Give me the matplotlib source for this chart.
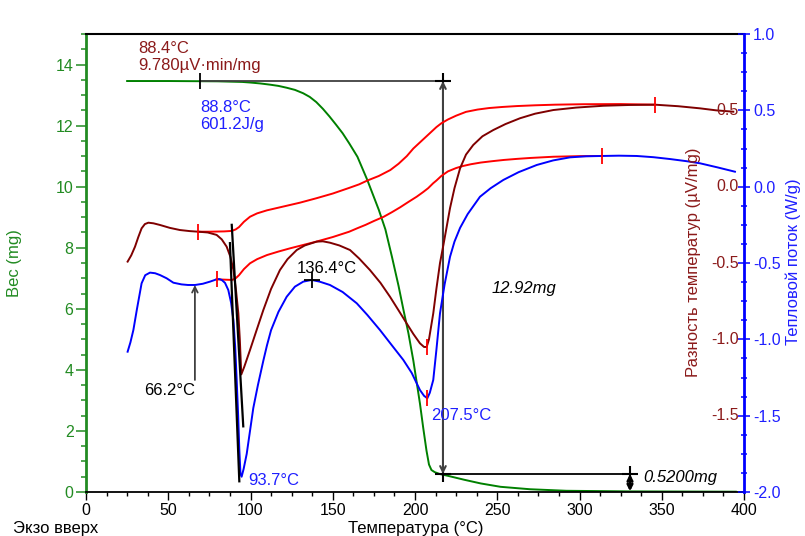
import matplotlib
matplotlib.use('Agg')
import matplotlib.pyplot as plt
import matplotlib.transforms as mtransforms
from matplotlib.ticker import MultipleLocator, FormatStrFormatter

plt.rcParams['font.family'] = ['Liberation Sans', 'DejaVu Sans']
plt.rcParams['axes.unicode_minus'] = False

# TG curve (mass, mg)
temp_tg = [25, 50, 80, 95, 100, 106, 112, 117, 122, 127, 132, 136, 140, 144, 148, 152, 156,
           160, 165, 171, 178, 182, 186, 190, 193, 196, 199, 201, 203, 205, 207, 208.5,
           210, 212, 215, 220, 230, 240, 252, 270, 292, 330, 395]
mass_tg = [13.46, 13.46, 13.45, 13.43, 13.41, 13.38, 13.34, 13.30, 13.24, 13.17, 13.06,
           12.94, 12.77, 12.55, 12.30, 12.03, 11.75, 11.42, 10.98, 10.22, 9.24, 8.6, 7.7,
           6.75, 5.96, 5.2, 4.3, 3.6, 2.9, 2.1, 1.35, 0.9, 0.72, 0.65, 0.59, 0.53, 0.40,
           0.28, 0.17, 0.09, 0.04, 0.02, 0.01]

# DTA curve (uV/mg)
temp_dta = [25.3, 27.5, 29.8, 31.8, 33.8, 35.8, 37.9, 41, 45, 51, 57.1, 63, 68.3, 74,
            79.4, 82.5, 85.5, 87.8, 89.6, 91.2, 92.6, 93.5, 94.4, 96.2, 99.7, 103.7, 107.8,
            112.5, 117.9, 122.5, 128.1, 133, 140.2, 144, 148.3, 154, 160.5, 166, 172.6,
            179, 184.8, 190, 194.9, 199, 203, 205.5, 207.1, 208.5, 211.1, 213, 215.2,
            217.3, 219.3, 221.3, 224, 227.4, 231, 235.4, 241, 247.6, 255, 263.8, 273,
            284.1, 298, 314.5, 330, 345.9, 360, 373.3, 383, 393.5]
dta = [-0.491, -0.45, -0.393, -0.33, -0.273, -0.245, -0.236, -0.240, -0.251, -0.27,
       -0.284, -0.291, -0.295, -0.300, -0.316, -0.345, -0.393, -0.46, -0.545, -0.68,
       -0.829, -1.0, -1.23, -1.18, -1.07, -0.94, -0.808, -0.67, -0.546, -0.475, -0.415,
       -0.385, -0.360, -0.358, -0.367, -0.385, -0.415, -0.47, -0.546, -0.63, -0.721,
       -0.81, -0.895, -0.965, -1.026, -1.05, -1.05, -1.0, -0.83, -0.67, -0.50, -0.38,
       -0.26, -0.14, -0.01, 0.12, 0.21, 0.273, 0.33, 0.371, 0.41, 0.448, 0.478, 0.502,
       0.518, 0.530, 0.535, 0.537, 0.527, 0.513, 0.50, 0.491]

# DSC curve (W/g)
temp_dsc = [25.3, 27, 28.8, 31, 33.8, 36, 38.9, 42, 45, 49, 53.1, 58, 62, 66.3, 71, 75.4,
            79.4, 81, 82.5, 84.5, 86.5, 88.2, 89.6, 90.7, 91.6, 92.5, 93.2, 93.9, 94.6,
            95.8, 97.7, 99.7, 101.7, 104.5, 107.8, 110, 112.5, 117, 122, 127, 132.1,
            137.2, 142, 148.3, 156, 164.6, 171, 178.7, 186, 192.9, 198, 203, 205.5, 207.5,
            209, 211.1, 213, 215.2, 218, 221.3, 224, 227.4, 232, 239.5, 246, 253.7, 263,
            274, 284, 294.2, 304, 313.5, 324, 334.8, 345, 355, 365, 373.3, 384, 394.5]
dsc = [-1.081, -1.02, -0.939, -0.80, -0.633, -0.58, -0.563, -0.567, -0.579, -0.60,
       -0.629, -0.640, -0.644, -0.644, -0.636, -0.622, -0.607, -0.605, -0.611, -0.63,
       -0.677, -0.76, -0.873, -1.05, -1.266, -1.5, -1.72, -1.88, -1.90, -1.85, -1.75,
       -1.6, -1.45, -1.30, -1.14, -1.04, -0.94, -0.82, -0.721, -0.655, -0.622, -0.611,
       -0.622, -0.644, -0.69, -0.764, -0.84, -0.939, -1.04, -1.135, -1.22, -1.332,
       -1.37, -1.386, -1.35, -1.266, -1.07, -0.829, -0.64, -0.459, -0.36, -0.27, -0.18,
       -0.066, -0.01, 0.044, 0.095, 0.142, 0.172, 0.192, 0.199, 0.201, 0.203, 0.201,
       0.193, 0.181, 0.167, 0.153, 0.126, 0.098]

# integration baselines
temp_base_dta = [68.3, 75, 84, 88.6, 91, 93, 96, 99.7, 104, 110, 120, 130, 140, 150, 160,
                 166, 171, 178, 185, 190, 195, 199, 203, 207, 210, 213, 216, 220, 225,
                 231, 238, 245, 253, 262, 273, 285, 302, 325, 345.9]
base_dta = [-0.295, -0.295, -0.293, -0.29, -0.28, -0.265, -0.23, -0.197, -0.175, -0.155,
            -0.13, -0.105, -0.076, -0.045, -0.008, 0.015, 0.04, 0.07, 0.109, 0.15, 0.20,
            0.25, 0.29, 0.33, 0.36, 0.39, 0.415, 0.44, 0.465, 0.49, 0.505, 0.515, 0.522,
            0.528, 0.533, 0.537, 0.540, 0.541, 0.537]
temp_base_dsc = [79.4, 84, 88.8, 91, 93, 96, 99.7, 104, 110, 117, 124, 132, 140, 150, 160,
                 165, 170, 175, 181, 186, 191, 196, 201, 205, 208, 211, 213, 216, 220,
                 225, 229, 234, 240, 247, 254, 262, 270, 284, 300, 313.5]
base_dsc = [-0.607, -0.609, -0.611, -0.6, -0.58, -0.54, -0.502, -0.475, -0.448, -0.425,
            -0.404, -0.382, -0.36, -0.33, -0.295, -0.272, -0.25, -0.225, -0.197, -0.167,
            -0.135, -0.10, -0.066, -0.035, -0.01, 0.022, 0.04, 0.07, 0.10, 0.122, 0.135,
            0.147, 0.158, 0.167, 0.175, 0.182, 0.188, 0.196, 0.200, 0.201]

# marks on the curves
mark_t = [68.3, 79.4, 345.9, 313.5, 207.1, 207.5]
mark_v = [-0.295, -0.607, 0.537, 0.201, -1.05, -1.386]

green = '#008000'
green_ax = '#228B22'
blue = '#0000FF'
blue_txt = '#1F1FFF'
brown = '#7F0000'
brown_txt = '#8B1A1A'
red = '#FF0000'
gray = '#404040'

fig = plt.figure(figsize=(8.05, 5.36), dpi=100)
ax = fig.add_axes([86 / 805, 1 - 492 / 536, 658 / 805, 458 / 536])
ax2 = ax.twinx()

ax.plot(temp_tg, mass_tg, color=green, lw=1.4)
ax.set_xlim(0, 400)
ax.set_ylim(0, 15)

ax2.plot(temp_base_dta, base_dta, color=red, lw=1.4)
ax2.plot(temp_base_dsc, base_dsc, color=red, lw=1.4)
ax2.plot(temp_dta, dta, color=brown, lw=1.4)
ax2.plot(temp_dsc, dsc, color=blue, lw=1.4)
ax2.plot(mark_t, mark_v, ls='none', marker='|', ms=11, mew=1.3, color=red)
ax2.set_ylim(-2, 1)

# onset tangents
ax2.plot([88.6, 95.6], [-0.25, -1.57], color='k', lw=1.6)
ax2.plot([87.5, 93.2], [-0.37, -1.93], color='k', lw=1.6)

# 66.2 arrow and peak cross
ax2.annotate('', xy=(66.2, -0.644), xytext=(66.2, -1.266),
             arrowprops=dict(arrowstyle='->', color=gray, lw=1.3, shrinkA=0, shrinkB=0))
ax2.plot([137.2], [-0.611], marker='+', ms=11, mew=1.3, color='k')

# mass loss steps
ax.plot([69.3, 220.1], [13.46, 13.46], color=gray, lw=1.3)
ax.plot([69.3], [13.46], marker='|', ms=12, mew=1.3, color='k')
ax.annotate('', xy=(217, 13.46), xytext=(217, 0.59),
            arrowprops=dict(arrowstyle='<->', color=gray, lw=1.5, shrinkA=0, shrinkB=0))
ax.plot([217, 334.3], [0.59, 0.59], color='k', lw=1.3)
ax.annotate('', xy=(330.7, 0.59), xytext=(330.7, 0.02),
            arrowprops=dict(arrowstyle='<->', color='k', lw=2, shrinkA=0, shrinkB=0,
                            mutation_scale=8))
ax.plot([217, 217, 330.7], [13.46, 0.59, 0.59], ls='none', marker='+', ms=12,
        mew=1.5, color='k')

# annotation texts
ax.text(31.6, 14.25, '88.4°C\n9.780µV·min/mg', color=brown_txt, fontsize=12,
        ha='left', va='center')
ax.text(69.3, 12.32, '88.8°C\n601.2J/g', color=blue_txt, fontsize=12,
        ha='left', va='center')
ax.text(146.3, 7.33, '136.4°C', color='k', fontsize=12, ha='center', va='center')
ax.text(66.3, 3.34, '66.2°C', color='k', fontsize=12, ha='right', va='center')
ax.text(98.7, 0.37, '93.7°C', color=blue_txt, fontsize=12, ha='left', va='center')
ax.text(210.1, 2.52, '207.5°C', color=blue_txt, fontsize=12, ha='left', va='center')
ax.text(246.6, 6.65, '12.92mg', color='k', fontsize=12, style='italic',
        ha='left', va='center')
ax.text(338.8, 0.48, '0.5200mg', color='k', fontsize=12, style='italic',
        ha='left', va='center')

# axes styling
ax.xaxis.set_major_locator(MultipleLocator(50))
ax.xaxis.set_minor_locator(MultipleLocator(12.5))
ax.yaxis.set_major_locator(MultipleLocator(2))
ax.yaxis.set_minor_locator(MultipleLocator(0.5))
ax.tick_params(axis='x', which='major', length=6, width=1, labelsize=11.5, pad=2)
ax.tick_params(axis='x', which='minor', length=3, width=1)
ax.tick_params(axis='y', which='major', length=7, width=1.1, color=green_ax,
               labelcolor=green_ax, labelsize=11.5, pad=2)
ax.tick_params(axis='y', which='minor', length=3.5, width=1.1, color=green_ax)
ax.spines['left'].set_color(green_ax)
ax.spines['left'].set_linewidth(2)
ax.spines['right'].set_visible(False)
ax.spines['top'].set_linewidth(1.5)
ax.spines['bottom'].set_linewidth(1.3)

ax2.yaxis.set_major_locator(MultipleLocator(0.5))
ax2.yaxis.set_minor_locator(MultipleLocator(0.125))
ax2.yaxis.set_major_formatter(FormatStrFormatter('%.1f'))
ax2.tick_params(axis='y', which='major', direction='inout', length=9, width=1.1,
                color=blue, labelcolor=blue_txt, labelsize=11.5, pad=2)
ax2.tick_params(axis='y', which='minor', direction='inout', length=5, width=1.1,
                color=blue)
ax2.spines['right'].set_color(blue)
ax2.spines['right'].set_linewidth(2)
for s in ['left', 'top', 'bottom']:
    ax2.spines[s].set_visible(False)

# brown tick labels inside the right spine
trans = mtransforms.blended_transform_factory(ax2.transAxes, ax2.transData)
for v in [0.5, 0.0, -0.5, -1.0, -1.5]:
    ax2.text(0.9924, v, '%.1f' % v, transform=trans, color=brown_txt, fontsize=11.5,
             ha='right', va='center')

# axis titles
fig.text(15 / 805, 1 - 263 / 536, 'Вес (mg)', color=green_ax, fontsize=12,
         rotation=90, ha='center', va='center')
fig.text(416 / 805, 1 - 529 / 536, 'Температура (°C)', color='k', fontsize=12,
         ha='center', va='center')
fig.text(13 / 805, 1 - 529 / 536, 'Экзо вверх', color='k', fontsize=12,
         ha='left', va='center')
fig.text(693 / 805, 1 - 262 / 536, 'Разность температур (µV/mg)', color=brown_txt,
         fontsize=12, rotation=90, ha='center', va='center')
fig.text(793 / 805, 1 - 262 / 536, 'Тепловой поток (W/g)', color=blue_txt,
         fontsize=12, rotation=90, ha='center', va='center')

fig.savefig('out.png', dpi=100)
